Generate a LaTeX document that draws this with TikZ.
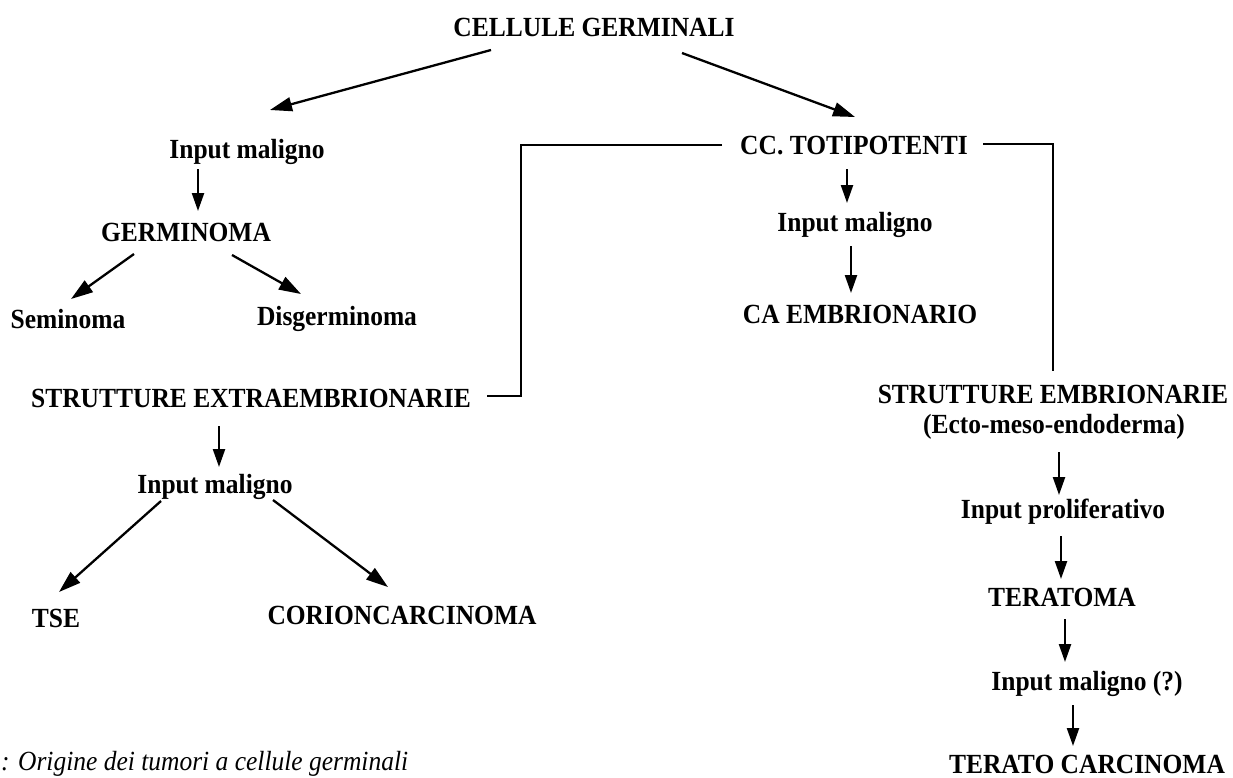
\documentclass[tikz,border=0pt]{standalone}
\usepackage{fontspec}
\setmainfont[FakeStretch=0.92]{Liberation Serif}
\usetikzlibrary{arrows.meta}
\begin{document}
\begin{tikzpicture}[x=1pt,y=-1pt,
  lbl/.style={anchor=base,inner sep=0pt,font=\fontsize{27.7}{32}\selectfont\bfseries},
  arr/.style={line width=2.3pt,-{Triangle[length=22pt,width=14pt]}},
  varr/.style={line width=2.3pt,-{Triangle[length=18pt,width=12pt]}},
  link/.style={line width=2.3pt}]
\useasboundingbox[fill=white] (0,0) rectangle (1233,777);
% nodes
\node[lbl] (cg)   at (594,36)  {CELLULE GERMINALI};
\node[lbl] (im1)  at (247,158) {Input maligno};
\node[lbl] (germ) at (186,241) {GERMINOMA};
\node[lbl] (sem)  at (68,328)  {Seminoma};
\node[lbl] (dis)  at (337,325) {Disgerminoma};
\node[lbl] (sex)  at (251,407) {STRUTTURE EXTRAEMBRIONARIE};
\node[lbl] (im2)  at (215,493) {Input maligno};
\node[lbl] (tse)  at (56,627)  {TSE};
\node[lbl] (cor)  at (402,624) {CORIONCARCINOMA};
\node[lbl] (cc)   at (854,154) {CC. TOTIPOTENTI};
\node[lbl] (im3)  at (855,231) {Input maligno};
\node[lbl] (cae)  at (860,323) {CA EMBRIONARIO};
\node[lbl] (se)   at (1053,403) {STRUTTURE EMBRIONARIE};
\node[lbl] (ecto) at (1054,433) {(Ecto-meso-endoderma)};
\node[lbl] (ip)   at (1063,518) {Input proliferativo};
\node[lbl] (ter)  at (1062,606) {TERATOMA};
\node[lbl] (im4)  at (1087,690) {Input maligno (?)};
\node[lbl] (tc)   at (1087,773) {TERATO CARCINOMA};
\node[anchor=base west,inner sep=0pt,font=\fontsize{27.7}{32}\selectfont\itshape] (cap) at (1,770) {: Origine dei tumori a cellule germinali};
% arrows
\draw[arr] ([shift={(-103,14)}]cg.base) -- ([shift={(23,-48)}]im1.base);
\draw[arr] ([shift={(88,17)}]cg.base) -- ([shift={(1,-37)}]cc.base);
\draw[varr] ([shift={(-49,11)}]im1.base) -- ([shift={(12,-30)}]germ.base);
\draw[arr] ([shift={(-52,13)}]germ.base) -- ([shift={(3,-29)}]sem.base);
\draw[arr] ([shift={(46,14)}]germ.base) -- ([shift={(-36,-31)}]dis.base);
\draw[varr] ([shift={(-32,19)}]sex.base) -- ([shift={(4,-26)}]im2.base);
\draw[arr] ([shift={(-54,8)}]im2.base) -- ([shift={(3,-35)}]tse.base);
\draw[arr] ([shift={(58,7)}]im2.base) -- ([shift={(-14,-37)}]cor.base);
\draw[varr] ([shift={(-7,15)}]cc.base) -- ([shift={(-8,-28)}]im3.base);
\draw[varr] ([shift={(-4,15)}]im3.base) -- ([shift={(-9,-30)}]cae.base);
\draw[varr] ([shift={(5,19)}]ecto.base) -- ([shift={(-4,-23)}]ip.base);
\draw[varr] ([shift={(-2,18)}]ip.base) -- ([shift={(-1,-27)}]ter.base);
\draw[varr] ([shift={(3,13)}]ter.base) -- ([shift={(-22,-28)}]im4.base);
\draw[varr] ([shift={(-14,15)}]im4.base) -- ([shift={(-14,-27)}]tc.base);
% brackets
\draw[link] ([shift={(-132,-9)}]cc.base) -- ++(-201,0) |- ([shift={(236,-11)}]sex.base);
\draw[link] ([shift={(129,-10)}]cc.base) -| ([shift={(0,-32)}]se.base);
\end{tikzpicture}
\end{document}
